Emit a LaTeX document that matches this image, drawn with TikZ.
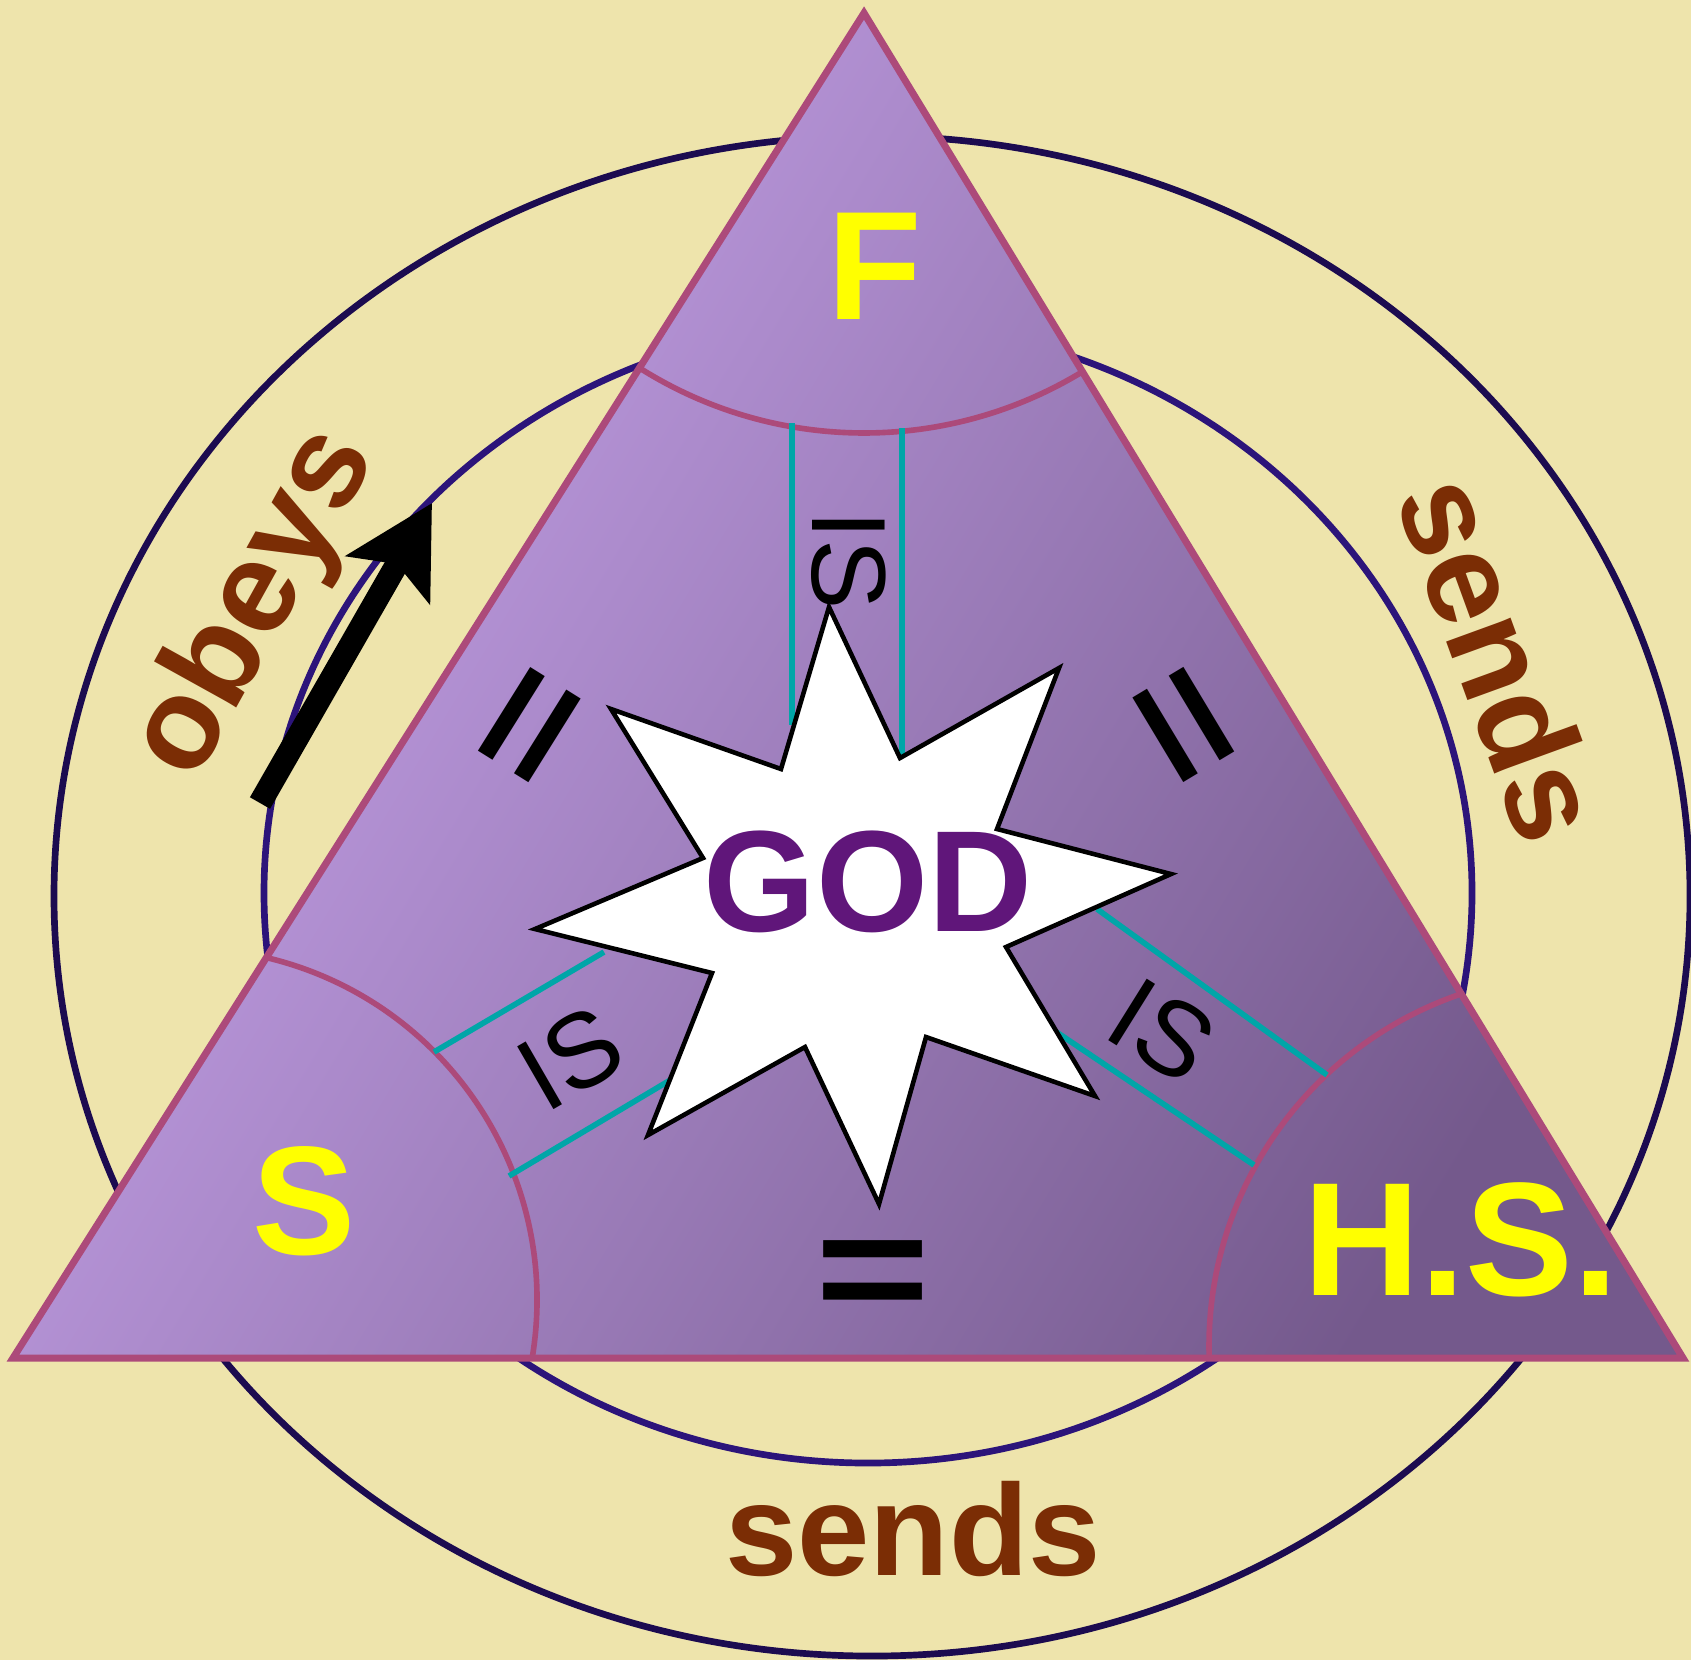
\documentclass[tikz,border=0pt]{standalone}
\usepackage{fontspec}
\setmainfont{Liberation Sans}
\usetikzlibrary{arrows.meta}

\definecolor{parchment}{RGB}{238,228,172}
\definecolor{outernavy}{RGB}{28,11,80}
\definecolor{innernavy}{RGB}{44,20,122}
\definecolor{seampink}{RGB}{172,74,122}
\definecolor{lavlight}{RGB}{200,164,236}
\definecolor{lavdark}{RGB}{116,89,140}
\definecolor{isteal}{RGB}{0,166,168}
\definecolor{godpurple}{RGB}{96,22,122}
\definecolor{verbbrown}{RGB}{123,45,5}
\definecolor{persyellow}{RGB}{255,255,0}

\begin{document}
\begin{tikzpicture}[x=0.1mm, y=-0.1mm,
    ring/.style={line width=1.9pt},
    edge/.style={draw=seampink, line width=2pt},
    seam/.style={draw=seampink, line width=1.6pt},
    isline/.style={draw=isteal, line width=1.6pt},
    burst/.style={fill=white, draw=black, line width=1.3pt, line join=miter},
    person/.style={font=\fontsize{44}{44}\selectfont\bfseries, text=persyellow, inner sep=0pt},
    godword/.style={font=\fontsize{41}{41}\selectfont\bfseries, text=godpurple, inner sep=0pt},
    verb/.style={font=\fontsize{37}{37}\selectfont\bfseries, text=verbbrown, inner sep=0pt},
    isword/.style={font=\fontsize{30}{30}\selectfont, inner sep=0pt},
    eqword/.style={font=\fontsize{56}{56}\selectfont\bfseries, inner sep=0pt, yscale=0.8, transform shape}]

    \fill[parchment] (0,0) rectangle (1691,1660);
    \useasboundingbox (0,0) rectangle (1691,1660);

    % the two rings
    \draw[ring, outernavy] (872,896) ellipse [x radius=818, y radius=760];
    \draw[ring, innernavy] (868,893) ellipse [x radius=604, y radius=570];

    % triangle
    \coordinate (apex) at (864,13);
    \coordinate (sonc) at (13,1358);
    \coordinate (spiritc) at (1683,1358);
    \shade[top color=lavlight, bottom color=lavdark, shading angle=59]
        (apex) -- (sonc) -- (spiritc) -- cycle;
    \draw[edge] (apex) -- (sonc) -- (spiritc) -- cycle;

    % corner seams
    \draw[seam] ([shift={(122.32:420)}]apex) arc[start angle=122.32, end angle=58.66, radius=420];
    \draw[seam] (185,1300) ++(-76.7:352) arc[start angle=-76.7, end angle=9.3, radius=352];
    \draw[seam] (1581,1346) ++(-109.2:372) arc[start angle=-109.2, end angle=-181.8, radius=372];

    % "is" lanes
    \coordinate (fa) at (792,423);   \coordinate (fa') at (792,725);
    \coordinate (fb) at (902,428);   \coordinate (fb') at (902,755);
    \coordinate (sa) at (434,1052);  \coordinate (sa') at (604,952);
    \coordinate (sb) at (509,1176);  \coordinate (sb') at (677,1076);
    \coordinate (ha) at (1327,1075); \coordinate (ha') at (1097,909);
    \coordinate (hb) at (1254,1165); \coordinate (hb') at (1049,1027);
    \draw[isline] (fa) -- (fa');
    \draw[isline] (fb) -- (fb');
    \draw[isline] (sa) -- (sa');
    \draw[isline] (sb) -- (sb');
    \draw[isline] (ha) -- (ha');
    \draw[isline] (hb) -- (hb');

    % star
    \draw[burst] (829,607) -- (900,758) -- (1059,668) -- (997,829) -- (1171,874)
        -- (1006,947) -- (1095,1096) -- (926,1037) -- (879,1204) -- (805,1047)
        -- (648,1135) -- (712,973) -- (535,929) -- (703,858) -- (611,709)
        -- (781,769) -- cycle;

    \node[isword, rotate=-90] (isf) at (849,560) {IS};
    \node[isword, rotate=30] (iss) at (570,1058) {IS};
    \node[isword, rotate=-32] (ish) at (1162,1031) {IS};

    \node[rotate=58, eqword] (eqfs) at (539,731) {=};
    \node[rotate=-59, eqword] (eqfh) at (1174,731) {=};
    \node[eqword] (eqsh) at (873,1282) {=};

    \node[godword] (god) at (868,882) {GOD};
    \node[person] (father) at (875,266) {F};
    \node[person] (son) at (304,1201) {S};
    \node[person, font=\fontsize{46}{46}\selectfont\bfseries] (spirit) at (1461,1240) {H.S.};

    \node[verb, rotate=61] (obeys) at (256,604) {obeys};
    \node[verb, rotate=-70] (sendsr) at (1502,658) {sends};
    \node[verb] (sendsb) at (913,1529) {sends};

    % obeys arrow
    \coordinate (obeytail) at (260,803);
    \coordinate (obeytip) at (432,503);
    \draw[line width=6.6pt, -{Stealth[length=25pt, width=27pt, inset=5pt]}] (obeytail) -- (obeytip);
\end{tikzpicture}
\end{document}
